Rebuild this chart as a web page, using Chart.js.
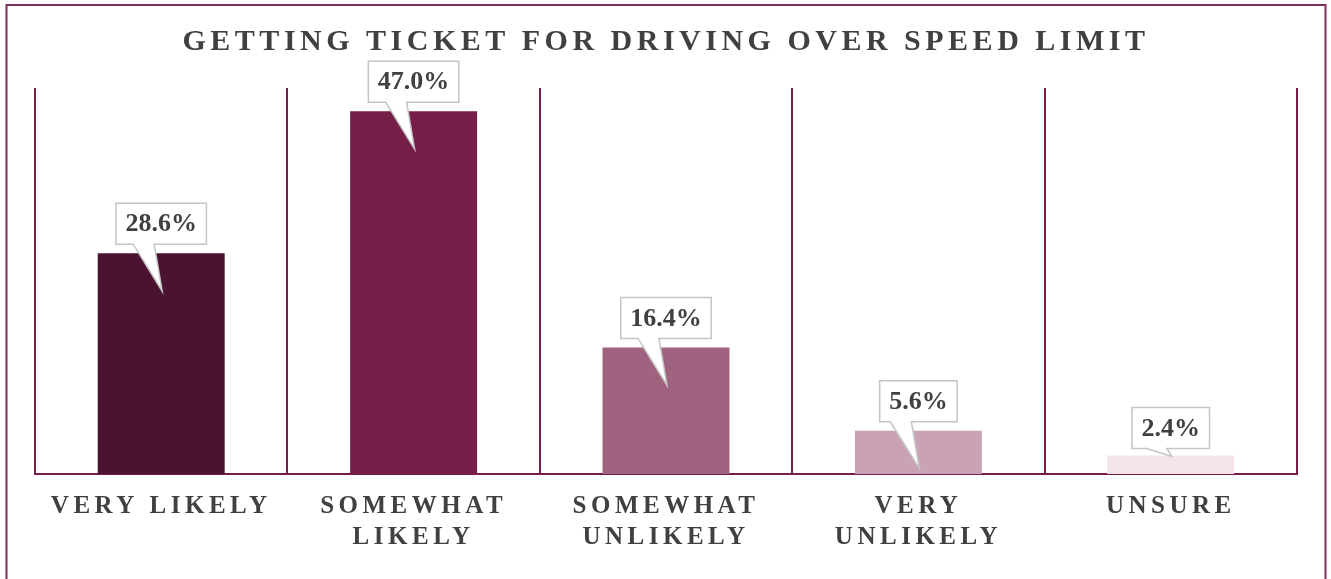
<!DOCTYPE html>
<html>
<head>
<meta charset="utf-8">
<script src="https://cdn.jsdelivr.net/npm/chart.js@4/dist/chart.umd.min.js"></script>
<style>
  html, body { margin: 0; padding: 0; background: #ffffff; }
  #wrap { width: 1331px; height: 579px; position: relative; }
</style>
</head>
<body>
<div id="wrap"><canvas id="c" width="1331" height="579"></canvas></div>
<script>
const chartTitle = 'GETTING TICKET FOR DRIVING OVER SPEED LIMIT';
const categories = [
  ['VERY LIKELY'],
  ['SOMEWHAT', 'LIKELY'],
  ['SOMEWHAT', 'UNLIKELY'],
  ['VERY', 'UNLIKELY'],
  ['UNSURE']
];
const shares = [28.6, 47.0, 16.4, 5.6, 2.4];
const barColors = ['#4a1430', '#761d48', '#a0637f', '#c9a2b5', '#f6e4ed'];

const SERIF = '"Liberation Serif", "Times New Roman", serif';
const TEXT = '#404040';
const LINE = '#761d48';

// Outer frame plus letter spacing for the title (drawn in the z=0 layers)
const framePlugin = {
  id: 'frame',
  beforeDraw(chart) {
    const ctx = chart.ctx;
    ctx.save();
    ctx.strokeStyle = '#7e2f5a';
    ctx.lineWidth = 2;
    ctx.strokeRect(6.5, 5, 1319, 620);
    ctx.restore();
    ctx.letterSpacing = '4.5px';
  }
};

// Speech-bubble value labels above each bar
const calloutPlugin = {
  id: 'callouts',
  afterDatasetsDraw(chart) {
    const ctx = chart.ctx;
    const meta = chart.getDatasetMeta(0);
    const values = chart.data.datasets[0].data;
    ctx.save();
    ctx.letterSpacing = '0px';
    ctx.font = 'bold 26px ' + SERIF;
    meta.data.forEach((bar, i) => {
      const txt = values[i].toFixed(1) + '%';
      const cx = bar.x;
      const top = bar.y;
      const h = bar.base - bar.y;
      const w = ctx.measureText(txt).width + 19;
      const bh = 41;
      const gap = h > 30 ? 9 : 7;
      const B = top - gap;
      const T = B - bh;
      const L = cx - w / 2;
      const R = cx + w / 2;
      const tipY = h > 30 ? top + 38 : top + 1;
      const baseL = h > 30 ? cx - 28 : cx - 24;
      const baseR = h > 30 ? cx - 7 : cx - 4;
      ctx.beginPath();
      ctx.moveTo(L, T);
      ctx.lineTo(R, T);
      ctx.lineTo(R, B);
      ctx.lineTo(baseR, B);
      ctx.lineTo(cx + 1, tipY);
      ctx.lineTo(baseL, B);
      ctx.lineTo(L, B);
      ctx.closePath();
      ctx.fillStyle = '#ffffff';
      ctx.fill();
      ctx.lineWidth = 1.5;
      ctx.strokeStyle = '#c4c4c4';
      ctx.lineJoin = 'miter';
      ctx.stroke();
      ctx.fillStyle = TEXT;
      ctx.textAlign = 'center';
      ctx.textBaseline = 'middle';
      ctx.fillText(txt, cx, (T + B) / 2 + 1);
    });
    ctx.restore();
    // spacing for the category labels (drawn in the z=1 layer)
    ctx.letterSpacing = '4.5px';
  },
  afterDraw(chart) {
    chart.ctx.letterSpacing = '0px';
  }
};

new Chart(document.getElementById('c'), {
  type: 'bar',
  data: {
    labels: categories,
    datasets: [{
      data: shares,
      backgroundColor: barColors,
      borderWidth: 0,
      categoryPercentage: 1,
      barPercentage: 0.503
    }]
  },
  plugins: [framePlugin, calloutPlugin],
  options: {
    responsive: false,
    animation: false,
    events: [],
    layout: { padding: { left: 35, right: 34, top: 0, bottom: 0 } },
    plugins: {
      legend: { display: false },
      tooltip: { enabled: false },
      title: {
        display: true,
        text: chartTitle,
        color: TEXT,
        font: { family: SERIF, size: 30, weight: 'bold', lineHeight: 1.2 },
        padding: { top: 24.5, bottom: 27.5 }
      }
    },
    scales: {
      x: {
        offset: true,
        grid: {
          offset: true,
          drawTicks: false,
          color: LINE,
          lineWidth: 2
        },
        border: { display: true, color: LINE, width: 2 },
        ticks: {
          z: 1,
          color: TEXT,
          padding: 16.5,
          maxRotation: 0,
          autoSkip: false,
          font: { family: SERIF, size: 25, weight: 'bold', lineHeight: 1.25 }
        },
        afterFit(scale) { scale.height = 105; }
      },
      y: {
        display: false,
        min: 0,
        max: 50
      }
    }
  }
});
</script>
</body>
</html>
